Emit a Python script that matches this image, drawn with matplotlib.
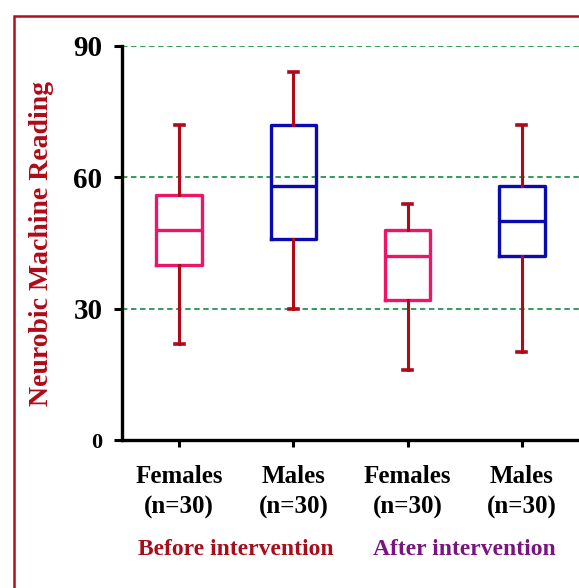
import matplotlib
matplotlib.use('Agg')
import matplotlib.pyplot as plt
from matplotlib.patches import Rectangle

# box plot summary values
groups = ['Females\n(n=30)', 'Males\n(n=30)', 'Females\n(n=30)', 'Males\n(n=30)']
whislo = [22, 30, 16, 20]
q1 = [40, 46, 32, 42]
med = [48, 58, 42, 50]
q3 = [56, 72, 48, 58]
whishi = [72, 84, 54, 72]
box_colors = ['#EE1566', '#0A0AB4', '#EE1566', '#0A0AB4']
periods = ['Before intervention', 'After intervention']
period_colors = ['#A80D1A', '#7A1480']

dark_red = '#B00A18'
serif = ['Liberation Serif', 'DejaVu Serif']

fig = plt.figure(figsize=(5.79, 5.88), dpi=100)
ax = fig.add_axes([122/579, 1-440/588, 1-122/579, (440-46)/588])

stats = []
for i in range(len(groups)):
    stats.append({'whislo': whislo[i], 'q1': q1[i], 'med': med[i],
                  'q3': q3[i], 'whishi': whishi[i], 'fliers': []})

bp = ax.bxp(stats, positions=[1, 2, 3, 4], widths=0.4, showfliers=False,
            patch_artist=False, manage_ticks=False)
for i, c in enumerate(box_colors):
    bp['boxes'][i].set(color=c, linewidth=2.4)
    bp['medians'][i].set(color=c, linewidth=2.4)
for w in bp['whiskers']:
    w.set(color=dark_red, linewidth=2.2)
for cap in bp['caps']:
    cap.set(color=dark_red, linewidth=2.6)
    xd = cap.get_xdata()
    mid = (xd[0] + xd[1]) / 2
    cap.set_xdata([mid - 0.04, mid + 0.04])

for y in [30, 60, 90]:
    ax.axhline(y, color='#23944F', linestyle=(0, (3, 2)), linewidth=1.3, zorder=0)

ax.set_xlim(0.5, 4.5)
ax.set_ylim(0, 90)
ax.set_yticks([0, 30, 60, 90])
ax.set_xticks([1, 2, 3, 4])
ax.set_xticklabels(groups, fontfamily=serif, fontweight='bold', fontsize=18,
                   linespacing=1.4)
ax.set_yticklabels(['0', '30', '60', '90'], fontfamily=serif, fontweight='bold', fontsize=21)
ax.get_yticklabels()[0].set_fontsize(16)
ax.tick_params(axis='y', direction='out', length=6, width=2.2, pad=8)
ax.tick_params(axis='x', direction='out', length=5, width=2.2, pad=13)

for s in ['top', 'right']:
    ax.spines[s].set_visible(False)
for s in ['left', 'bottom']:
    ax.spines[s].set_linewidth(2.4)

ax.set_ylabel('Neurobic Machine Reading', fontfamily=serif, fontweight='bold',
              fontsize=20, color=dark_red, labelpad=14)

for i, p in enumerate(periods):
    ax.text(1.5 + 2*i, -25, p, ha='center', va='center', fontfamily=serif,
            fontweight='bold', fontsize=17, color=period_colors[i])

# outer frame
fig.patches.append(Rectangle((14/579, -0.1), 1.2, 1.1 - 16/588,
                             transform=fig.transFigure, fill=False,
                             edgecolor='#B01020', linewidth=1.8))

fig.savefig('out.png', dpi=100)
